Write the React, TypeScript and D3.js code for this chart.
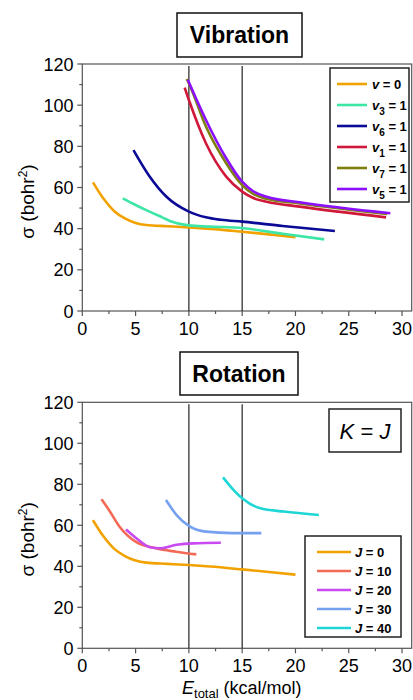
import * as d3 from 'd3';

// ---- data ----
const vZero = [[1, 62.5], [2, 54.5], [3, 48.5], [4, 45], [5, 42.8], [6, 41.8], [8, 41.2], [10, 40.6], [12, 39.9], [15, 38.5], [18, 37], [20, 35.9]];
const vThree = [[3.8, 54.7], [5, 51.5], [6, 49], [7.5, 45.5], [8.5, 43.2], [10, 41.6], [12, 41], [15, 40.3], [18.8, 37.5], [22.7, 34.8]];
const vSix = [[4.8, 78.2], [6.3, 65.5], [7.9, 55.5], [10, 48.3], [11.6, 45.5], [13, 44.3], [15, 43.4], [18.8, 41.3], [23.7, 38.9]];
const vOne = [[9.6, 108.5], [10, 102.5], [11.6, 81.5], [13.5, 65.3], [15, 58], [16, 55], [17.3, 53.1], [20.4, 50.7], [28.5, 45.5]];
const vSeven = [[9.8, 112.7], [10, 110.6], [11.6, 89.6], [13.5, 71.8], [15, 61.2], [16, 57], [17.3, 54.5], [20.4, 52.3], [28.6, 47.1]];
const vFive = [[9.9, 112.3], [11.6, 92.8], [13.5, 74.2], [15, 62.8], [16, 58.3], [17.3, 55.5], [20.4, 52.8], [28.9, 47.5]];

const jTen = [[1.8, 72.7], [2.5, 67.5], [3.5, 59.3], [5, 52], [6.9, 48.8], [8.8, 47.1], [10.7, 45.8]];
const jTwenty = [[4.1, 58], [5.1, 53.6], [6.35, 49.3], [7.3, 48.8], [8.85, 50.5], [10.4, 51.2], [13, 51.5]];
const jThirty = [[7.85, 72.3], [8.85, 65], [10, 59.7], [11.6, 56.9], [14.1, 56.2], [16.8, 56.2]];
const jForty = [[13.2, 83.4], [14.2, 77.2], [15, 73.2], [16.7, 68.3], [18.9, 66.7], [22.2, 65]];

const xTicks = [0, 5, 10, 15, 20, 25, 30];
const yTicks = [0, 20, 40, 60, 80, 100, 120];
const markers = [10, 15];

const vibSeries = [
  { sym: 'v', sub: '', val: '0', color: '#f2a200', data: vZero },
  { sym: 'v', sub: '3', val: '1', color: '#3ee6a6', data: vThree },
  { sym: 'v', sub: '6', val: '1', color: '#0a0a96', data: vSix },
  { sym: 'v', sub: '1', val: '1', color: '#d0183a', data: vOne },
  { sym: 'v', sub: '7', val: '1', color: '#7f7f10', data: vSeven },
  { sym: 'v', sub: '5', val: '1', color: '#8c10ff', data: vFive },
];

const rotSeries = [
  { sym: 'J', sub: '', val: '0', color: '#f2a200', data: vZero },
  { sym: 'J', sub: '', val: '10', color: '#f26a56', data: jTen },
  { sym: 'J', sub: '', val: '20', color: '#c84af0', data: jTwenty },
  { sym: 'J', sub: '', val: '30', color: '#76a0f0', data: jThirty },
  { sym: 'J', sub: '', val: '40', color: '#1ed6d6', data: jForty },
];

const FONT = '"Liberation Sans", Arial, sans-serif';
const axisColor = '#555';

function Panel({ top, bottom, title, titleBox, series, legend, showXLabel, kBox }) {
  const x = d3.scaleLinear().domain([0, 31]).range([82.3, 412.7]);
  const y = d3.scaleLinear().domain([0, 120]).range([bottom, top]);
  const line = d3.line().x(d => x(d[0])).y(d => y(d[1])).curve(d3.curveMonotoneX);
  const minorX = d3.range(2.5, 31, 5);
  const minorY = d3.range(10, 120, 20);
  const midY = (top + bottom) / 2 + 14;

  return (
    <g>
      <rect x={titleBox.x} y={titleBox.y} width={titleBox.w} height={titleBox.h} fill="white" stroke="#111" strokeWidth={1.5} />
      <text x={titleBox.x + titleBox.w / 2} y={titleBox.y + titleBox.h / 2 + 8} textAnchor="middle" fontFamily={FONT} fontWeight="bold" fontSize={23}>{title}</text>

      {/* frame */}
      <rect x={x(0)} y={top} width={x(31) - x(0) - 1} height={bottom - top} fill="none" stroke={axisColor} strokeWidth={1.2} />

      {markers.map(m => (
        <line key={m} x1={x(m)} x2={x(m)} y1={top + 2} y2={bottom} stroke="#222" strokeWidth={1.2} />
      ))}

      {series.map((s, i) => (
        <path key={i} d={line(s.data)} fill="none" stroke={s.color} strokeWidth={2.6} />
      ))}

      {/* x ticks */}
      {xTicks.map(t => (
        <g key={t}>
          <line x1={x(t)} x2={x(t)} y1={bottom} y2={bottom + 5} stroke={axisColor} strokeWidth={1.2} />
          <text x={x(t)} y={bottom + 24} textAnchor="middle" fontFamily={FONT} fontSize={18}>{t}</text>
        </g>
      ))}
      {minorX.map(t => (
        <line key={t} x1={x(t)} x2={x(t)} y1={bottom} y2={bottom + 3} stroke={axisColor} strokeWidth={1.2} />
      ))}

      {/* y ticks */}
      {yTicks.map(t => (
        <g key={t}>
          <line x1={x(0) - 5} x2={x(0)} y1={y(t)} y2={y(t)} stroke={axisColor} strokeWidth={1.2} />
          <text x={73.5} y={y(t) + 6.5} textAnchor="end" fontFamily={FONT} fontSize={18}>{t}</text>
        </g>
      ))}
      {minorY.map(t => (
        <line key={t} x1={x(0) - 3} x2={x(0)} y1={y(t)} y2={y(t)} stroke={axisColor} strokeWidth={1.2} />
      ))}

      <text transform={`translate(34,${midY}) rotate(-90)`} textAnchor="middle" fontFamily={FONT} fontSize={19}>
        σ (bohr<tspan dy={-7} fontSize={12}>2</tspan><tspan dy={7}>)</tspan>
      </text>

      {showXLabel && (
        <text x={182} y={694} fontFamily={FONT} fontSize={18}>
          <tspan fontStyle="italic">E</tspan><tspan dy={4} fontSize={13}>total</tspan><tspan dy={-4}> (kcal/mol)</tspan>
        </text>
      )}

      {kBox && (
        <g>
          <rect x={kBox.x} y={kBox.y} width={kBox.w} height={kBox.h} fill="white" stroke="#222" strokeWidth={1.5} />
          <text x={kBox.x + kBox.w / 2} y={kBox.y + kBox.h / 2 + 8} textAnchor="middle" fontFamily={FONT} fontSize={22} fontStyle="italic">
            K <tspan fontStyle="normal">=</tspan> J
          </text>
        </g>
      )}

      <rect x={legend.x} y={legend.y} width={legend.w} height={legend.h} fill="white" stroke="#222" strokeWidth={1.5} />
      {series.map((s, i) => {
        const ly = legend.first + i * legend.step;
        return (
          <g key={i}>
            <line x1={legend.lx1} x2={legend.lx2} y1={ly} y2={ly} stroke={s.color} strokeWidth={2.6} />
            <text x={legend.tx} y={ly + 5} fontFamily={FONT} fontSize={13} fontWeight="bold">
              <tspan fontStyle="italic">{s.sym}</tspan>
              {s.sub && <tspan dy={5} fontSize={10}>{s.sub}</tspan>}
              <tspan dy={s.sub ? -5 : 0}>{' = ' + s.val}</tspan>
            </text>
          </g>
        );
      })}
    </g>
  );
}

export default function App() {
  return (
    <svg width={413} height={700} style={{ position: 'absolute', left: 0, top: 0, background: 'white' }}>
      <rect width={413} height={700} fill="white" />
      <Panel
        top={64}
        bottom={311}
        title="Vibration"
        titleBox={{ x: 177, y: 13, w: 125, h: 44 }}
        series={vibSeries}
        legend={{ x: 330, y: 68, w: 79, h: 134, first: 84, step: 21, lx1: 337, lx2: 367, tx: 372 }}
        showXLabel={false}
        kBox={null}
      />
      <Panel
        top={402.3}
        bottom={648.3}
        title="Rotation"
        titleBox={{ x: 180, y: 352, w: 118, h: 43 }}
        series={rotSeries}
        legend={{ x: 305, y: 536, w: 96, h: 101, first: 552, step: 19, lx1: 317, lx2: 351, tx: 355 }}
        showXLabel={true}
        kBox={{ x: 329, y: 409, w: 72, h: 43 }}
      />
    </svg>
  );
}
